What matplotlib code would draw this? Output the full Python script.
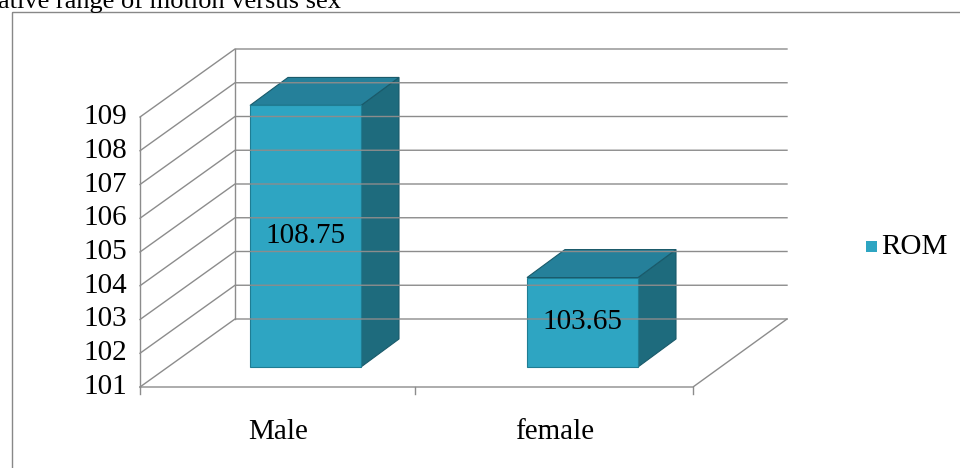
import matplotlib.pyplot as plt
from matplotlib.patches import Polygon, Rectangle

categories = ['Male', 'female']
rom = [108.75, 103.65]
yticks = list(range(101, 110))

plt.rcParams['font.family'] = ['Liberation Serif', 'DejaVu Serif']

fig = plt.figure(figsize=(9.6, 4.68), dpi=100)
ax = fig.add_axes([0, 0, 1, 1])
ax.set_xlim(0, 960)
ax.set_ylim(468, 0)
ax.axis('off')

# chart geometry (pixel space)
x0, x1 = 140, 693          # front floor extent
y_base, unit = 387, 33.75   # y of 101 on the front plane
ddx, ddy = 95, -68          # depth offset of back wall
grid = '#8c8c8c'
fs = 21

def ypos(v):
    return y_base - (v - 101) * unit

# outer border
ax.add_patch(Rectangle((12, 12), 960, 470, fill=False, ec='#888888', lw=1))
ax.text(-2, 2, 'ative range of motion versus sex', fontsize=19, va='center', ha='left')

# walls and gridlines
for v in yticks:
    y = ypos(v)
    ax.plot([x0, x0 + ddx, 787], [y, y + ddy, y + ddy], color=grid, lw=1)
    ax.text(127, y, str(v), fontsize=fs, ha='right', va='center')
ax.plot([x0, x0], [ypos(101), ypos(109)], color=grid, lw=1)
ax.plot([x0 + ddx, x0 + ddx], [ypos(101) + ddy, ypos(109) + ddy], color=grid, lw=1)
# floor
ax.plot([x0, x1, 787], [y_base, y_base, y_base + ddy], color=grid, lw=1)
for xt in [x0, (x0 + x1) / 2 - 2, x1]:
    ax.plot([xt, xt], [y_base, y_base + 7], color=grid, lw=1)

# bars
bw, bdx, bdy = 111, 38, -28
bar_left = [250, 527]
front_drop = 20
front_c, side_c, top_c = '#2ea5c2', '#1e6b7d', '#25809a'
for cat, val, bl in zip(categories, rom, bar_left):
    yb = ypos(101) - front_drop
    yt = ypos(val) - front_drop
    br = bl + bw
    ax.add_patch(Polygon([(br, yb), (br + bdx, yb + bdy), (br + bdx, yt + bdy), (br, yt)],
                         fc=side_c, ec='#1a5a6a', lw=0.8))
    ax.add_patch(Polygon([(bl, yt), (bl + bdx, yt + bdy), (br + bdx, yt + bdy), (br, yt)],
                         fc=top_c, ec='#1a5a6a', lw=0.8))
    ax.add_patch(Rectangle((bl, yt), bw, yb - yt, fc=front_c, ec='#1f7d93', lw=0.8))
    ax.text(bl + bw / 2, (yb + yt) / 2, f'{val:.2f}', fontsize=fs, ha='center', va='center')
    ax.text(bl + 28, 432, cat, fontsize=fs, ha='center', va='center')

# legend
ax.add_patch(Rectangle((866, 241), 11, 11, fc=front_c, ec='none'))
ax.text(881, 247, 'ROM', fontsize=fs, ha='left', va='center')

fig.savefig('out.png', dpi=100)
